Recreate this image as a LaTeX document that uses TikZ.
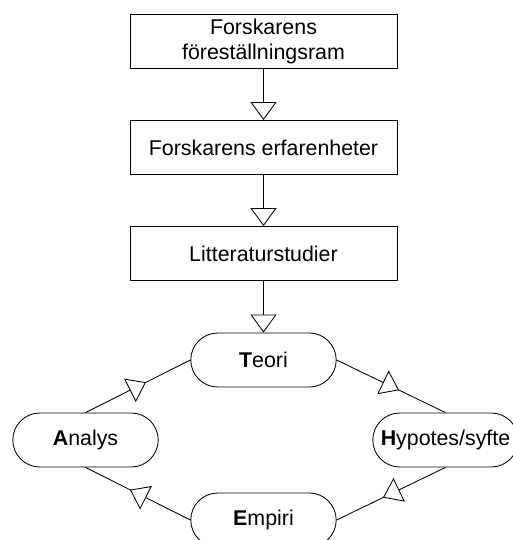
\documentclass[tikz,border=0pt]{standalone}
\usepackage{fontspec}
\setmainfont{Liberation Sans}
\usetikzlibrary{arrows.meta,positioning,shapes.misc,decorations.markings}

\begin{document}
\begin{tikzpicture}[x=0.025cm,y=-0.025cm,line width=0.6pt,
  stegbox/.style={draw,minimum width=6.675cm,minimum height=1.35cm,
    font=\fontsize{15.2}{18}\selectfont,align=center,inner sep=2pt},
  cykelbox/.style={draw,rounded rectangle,minimum width=3.775cm,minimum height=1.35cm,
    font=\fontsize{15.2}{18}\selectfont,inner sep=2pt},
  pil/.style={-{Triangle[fill=white,length=12.8pt,width=18.5pt]}},
  mittpil/.style={postaction={decorate},decoration={markings,
    mark=at position 0.5 with {\arrow[xshift=6.4pt]{Triangle[fill=white,length=12.8pt,width=18.5pt]}}}}]
  \clip (0,0) rectangle (513,540);
  % Forskarens steg
  \node[stegbox] (ram) at (263.5,41.5) {Forskarens\\föreställningsram};
  \node[stegbox] (erf) at (263.5,147.5) {Forskarens erfarenheter};
  \node[stegbox] (litt) at (263.5,253.5) {Litteraturstudier};
  % Cykeln
  \node[cykelbox] (teori) at (263.5,360) {\textbf{T}eori};
  \node[cykelbox] (hyp) at (445.5,440) {\textbf{H}ypotes/syfte};
  \node[cykelbox] (emp) at (263.5,520) {\textbf{E}mpiri};
  \node[cykelbox] (ana) at (85.5,440) {\textbf{A}nalys};
  % Pilar
  \draw[pil] (ram) -- (erf);
  \draw[pil] (erf) -- (litt);
  \draw[pil] (litt) -- (teori);
  \draw[mittpil] (teori.east) -- (hyp.north);
  \draw[mittpil] (hyp.south) -- (emp.east);
  \draw[mittpil] (emp.west) -- (ana.south);
  \draw[mittpil] (ana.north) -- (teori.west);
\end{tikzpicture}
\end{document}
